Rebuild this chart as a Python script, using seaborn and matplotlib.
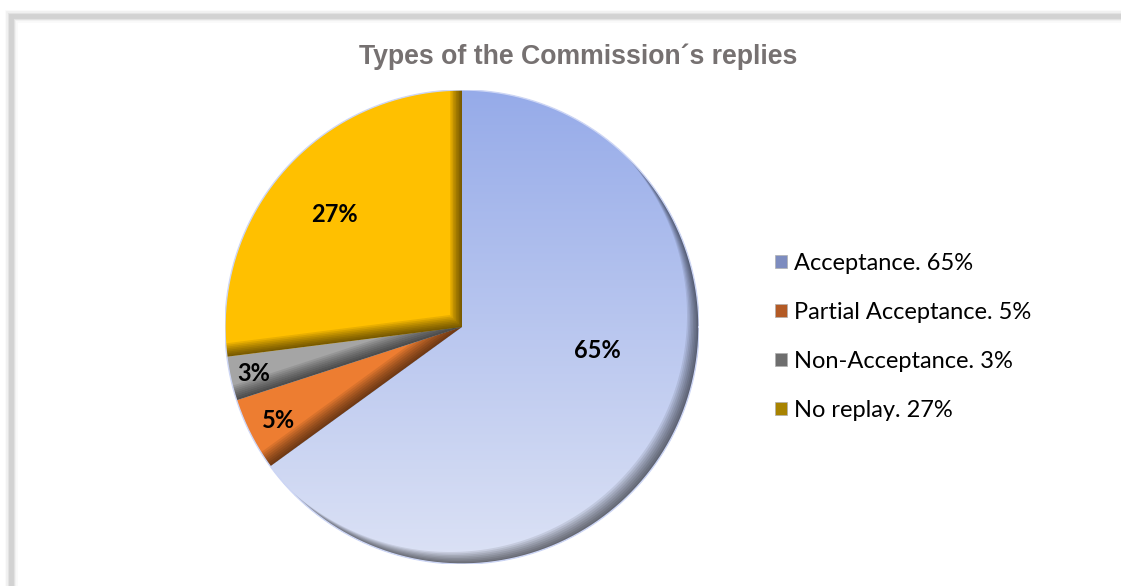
import numpy as np
import matplotlib
matplotlib.use("Agg")
import matplotlib.pyplot as plt
import seaborn as sns
from matplotlib.patches import PathPatch, Rectangle, Patch
from matplotlib.path import Path
from matplotlib.colors import LinearSegmentedColormap

sns.set_theme(style="white")
plt.rcParams['font.family'] = ['Lato', 'DejaVu Sans']

# ---- data ----
categories = ["Acceptance", "Partial Acceptance", "Non-Acceptance", "No replay"]
values = [65, 5, 3, 27]
legend_labels = ["Acceptance. 65%", "Partial Acceptance. 5%", "Non-Acceptance. 3%", "No replay. 27%"]
slice_colors = ["#b3c1ef", "#ed7d31", "#a5a5a5", "#ffc000"]
legend_colors = ["#7d8cbf", "#b35a25", "#6e6e6e", "#a88300"]
title = "Types of the Commission\u00b4s replies"

# label layout (distance from centre, angle shift in degrees)
label_dist = [0.58, 0.87, 0.90, 0.72]
label_shift = [17, 0, 0, 0]

fig = plt.figure(figsize=(11.21, 5.86), dpi=100)
fig.patch.set_facecolor("white")

# frame with soft shadow
for w, a in [(9, 0.10), (7, 0.18), (5, 0.35), (3.5, 0.6)]:
    fig.add_artist(Rectangle((11 / 1121, -0.05), 1.2, (586 - 16) / 586 + 0.05,
                             transform=fig.transFigure, fill=False,
                             edgecolor="#c8c8c8", linewidth=w, alpha=a, zorder=0))

ax = fig.add_axes([225 / 1121, 22 / 586, 474 / 1121, 474 / 586])
wedges, _ = ax.pie(values, colors=slice_colors, startangle=90, counterclock=False,
                   radius=1.0, wedgeprops=dict(linewidth=0))
ax.set_xlim(-1.0, 1.0)
ax.set_ylim(-1.0, 1.0)
ax.set_aspect("equal")
ax.axis("off")

# gradient for Acceptance slice
cmap = LinearSegmentedColormap.from_list("acc", ["#dce2f5", "#96abe9"])
grad = np.linspace(0, 1, 256).reshape(-1, 1)
im = ax.imshow(grad, extent=[-1, 1, -1, 1], origin="lower", cmap=cmap,
               aspect="auto", zorder=1.5)
im.set_clip_path(wedges[0])

# inner bevel shadow (light from top-left): wedge minus shifted wedge, layered
px = 1 / 237.0  # data units per pixel
for wdg in wedges:
    cx, cy = wdg.center
    t = np.deg2rad(np.linspace(wdg.theta1, wdg.theta2, 300))
    poly = np.vstack([[cx, cy], np.column_stack([cx + wdg.r * np.cos(t), cy + wdg.r * np.sin(t)]), [cx, cy]])
    area = 0.5 * np.sum(poly[:-1, 0] * poly[1:, 1] - poly[1:, 0] * poly[:-1, 1])
    if area > 0:
        poly = poly[::-1]
    for k in np.arange(1.5, 13.5, 1.5):
        hole = poly + np.array([-k * px, k * px])
        rect = np.array([[-3, -3], [3, -3], [3, 3], [-3, 3], [-3, -3]])  # CCW
        verts = np.vstack([rect, hole])
        codes = ([Path.MOVETO] + [Path.LINETO] * 3 + [Path.CLOSEPOLY] +
                 [Path.MOVETO] + [Path.LINETO] * (len(hole) - 2) + [Path.CLOSEPOLY])
        pp = PathPatch(Path(verts, codes), facecolor="black", edgecolor="none",
                       alpha=0.085, zorder=2)
        ax.add_patch(pp)
        pp.set_clip_path(wdg)

# outer soft rim
circ_t = np.linspace(0, 2 * np.pi, 400)
ax.plot(np.cos(circ_t), np.sin(circ_t), color="#cdd6f5", lw=1.0, zorder=3)

# percentage labels
for wdg, v, d, s in zip(wedges, values, label_dist, label_shift):
    ang = np.deg2rad((wdg.theta1 + wdg.theta2) / 2 + s)
    ax.text(d * np.cos(ang), d * np.sin(ang), f"{v}%", ha="center", va="center",
            fontsize=17, fontweight="bold", color="black", zorder=5)

fig.text(578 / 1121, 1 - 57 / 586, title, ha="center", va="center",
         fontsize=19.2, fontweight="bold", color="#767171",
         family=["Liberation Sans", "DejaVu Sans"])

handles = [Patch(facecolor=c, edgecolor="#b0b0b0", linewidth=0.5) for c in legend_colors]
fig.legend(handles, legend_labels, loc="upper left",
           bbox_to_anchor=(763 / 1121, 1 - 241 / 586), frameon=False,
           fontsize=17, handlelength=0.5, handleheight=0.5, handletextpad=0.3,
           labelspacing=1.19, borderpad=0, labelcolor="black")

fig.savefig("out.png", dpi=100, facecolor="white")
